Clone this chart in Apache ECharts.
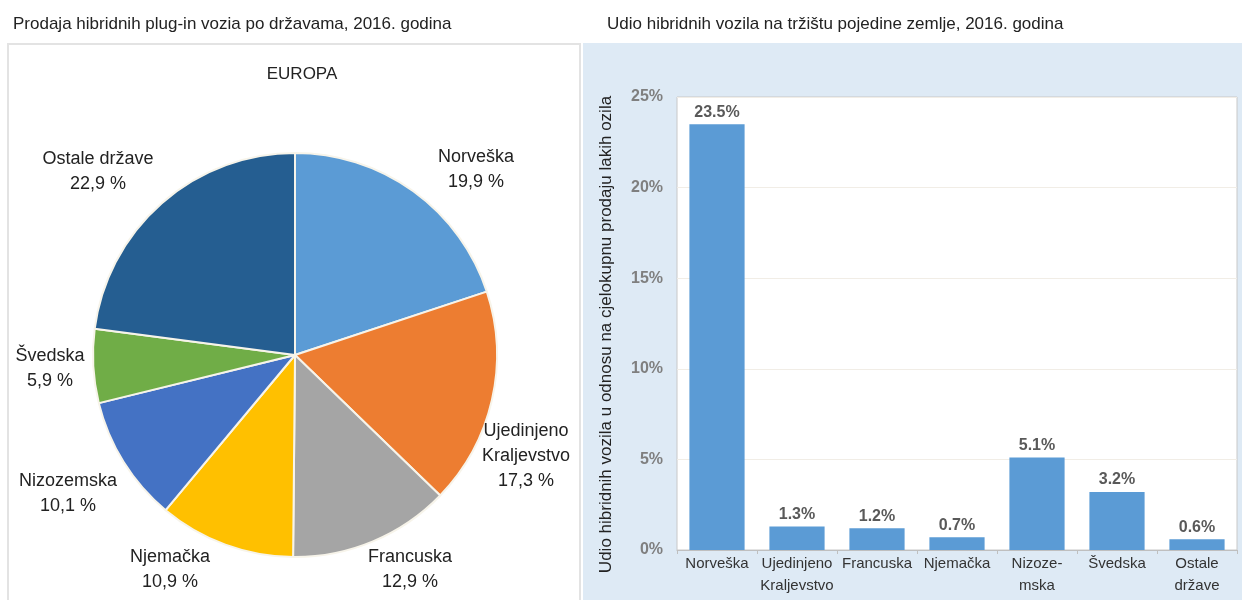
<!DOCTYPE html>
<html>
<head>
<meta charset="utf-8">
<script src="https://cdn.jsdelivr.net/npm/echarts@6/dist/echarts.min.js"></script>
<style>
  html, body { margin: 0; padding: 0; background: #fff; }
  #chart { width: 1242px; height: 600px; }
</style>
</head>
<body>
<div id="chart"></div>
<script>
// udio u prodaji plug-in hibrida, Europa 2016 (pie)
var pieNames = ['Norveška', 'Ujedinjeno\nKraljevstvo', 'Francuska', 'Njemačka', 'Nizozemska', 'Švedska', 'Ostale države']
var pieValues = [19.9, 17.3, 12.9, 10.9, 10.1, 5.9, 22.9]
var pieColors = ['#5b9bd5', '#ed7d31', '#a5a5a5', '#ffc000', '#4472c4', '#70ad47', '#255e91']

// udio hibrida na trzistu pojedine zemlje (bar)
var barCategories = ['Norveška', 'Ujedinjeno\nKraljevstvo', 'Francuska', 'Njemačka', 'Nizoze-\nmska', 'Švedska', 'Ostale\ndržave']
var barValues = [23.5, 1.3, 1.2, 0.7, 5.1, 3.2, 0.6]

// gdje stoje natpisi oko pite (centar natpisa)
var pieLabelPos = [
    [476, 170], [526, 456], [410, 570], [170, 570], [68, 494], [50, 369], [98, 172]
]

var fontFam = '"Liberation Sans", Arial, sans-serif'

var pieData = []
for (let i = 0; i < pieNames.length; i++) {
    pieData.push({ name: pieNames[i], value: pieValues[i], itemStyle: { color: pieColors[i] } })
}

option = {
    animation: false,
    textStyle: { fontFamily: fontFam },
    graphic: [
        {
            type: 'rect', z: -10,
            shape: { x: 8, y: 44, width: 572, height: 560 },
            style: { fill: '#fff', stroke: '#e3e3e3', lineWidth: 2 }
        },
        {
            type: 'rect', z: -10,
            shape: { x: 583, y: 43, width: 662, height: 560 },
            style: { fill: '#deeaf5' }
        }
    ],
    title: [
        {
            text: 'Prodaja hibridnih plug-in vozia po državama, 2016. godina',
            left: 8, top: 11,
            textStyle: { fontSize: 17, fontWeight: 'normal', color: '#222', fontFamily: fontFam }
        },
        {
            text: 'Udio hibridnih vozila na tržištu pojedine zemlje, 2016. godina',
            left: 602, top: 11,
            textStyle: { fontSize: 17, fontWeight: 'normal', color: '#222', fontFamily: fontFam }
        },
        {
            text: 'EUROPA',
            left: 297, top: 61, textAlign: 'center',
            textStyle: { fontSize: 17, fontWeight: 'normal', color: '#222', fontFamily: fontFam }
        }
    ],
    grid: {
        left: 677, top: 97, width: 560, height: 453,
        show: true, backgroundColor: '#fff', borderColor: '#c8c8c8', borderWidth: 1
    },
    xAxis: {
        type: 'category',
        data: barCategories,
        axisLine: { lineStyle: { color: '#bfbfbf' } },
        axisTick: { show: true, length: 4, lineStyle: { color: '#bfbfbf' } },
        axisLabel: { color: '#333', fontSize: 15, lineHeight: 22, margin: 3, interval: 0 }
    },
    yAxis: {
        type: 'value',
        min: 0, max: 25, interval: 5,
        name: 'Udio hibridnih vozila u odnosu na cjelokupnu prodaju lakih ozila',
        nameLocation: 'middle',
        nameRotate: 90,
        nameGap: 62,
        nameTextStyle: { fontSize: 17, color: '#222', padding: [0, 0, 0, -22] },
        axisLine: { show: false },
        axisTick: { show: false },
        axisLabel: { formatter: '{value}%', color: '#7f7f7f', fontWeight: 'bold', fontSize: 16, margin: 14 },
        splitLine: { lineStyle: { color: '#f1ede6' } }
    },
    series: [
        {
            type: 'pie',
            center: [295, 355],
            radius: 202,
            startAngle: 90,
            clockwise: true,
            data: pieData,
            itemStyle: { borderColor: '#f7f4ea', borderWidth: 2 },
            label: {
                position: 'outside',
                color: '#222',
                fontSize: 18,
                lineHeight: 25,
                align: 'center',
                overflow: 'none',
                formatter: function (p) {
                    return p.name + '\n' + p.value.toFixed(1).replace('.', ',') + ' %'
                }
            },
            labelLine: { show: false },
            labelLayout: function (p) {
                var pos = pieLabelPos[p.dataIndex]
                return { x: pos[0], y: pos[1], align: 'center', verticalAlign: 'middle' }
            }
        },
        {
            type: 'bar',
            data: barValues,
            barCategoryGap: '31%',
            itemStyle: { color: '#5b9bd5' },
            label: {
                show: true, position: 'top', distance: 4,
                color: '#595959', fontWeight: 'bold', fontSize: 16,
                formatter: function (p) { return p.value.toFixed(1) + '%' }
            }
        }
    ]
};

var myChart = echarts.init(document.getElementById('chart'));
myChart.setOption(option);
</script>
</body>
</html>
